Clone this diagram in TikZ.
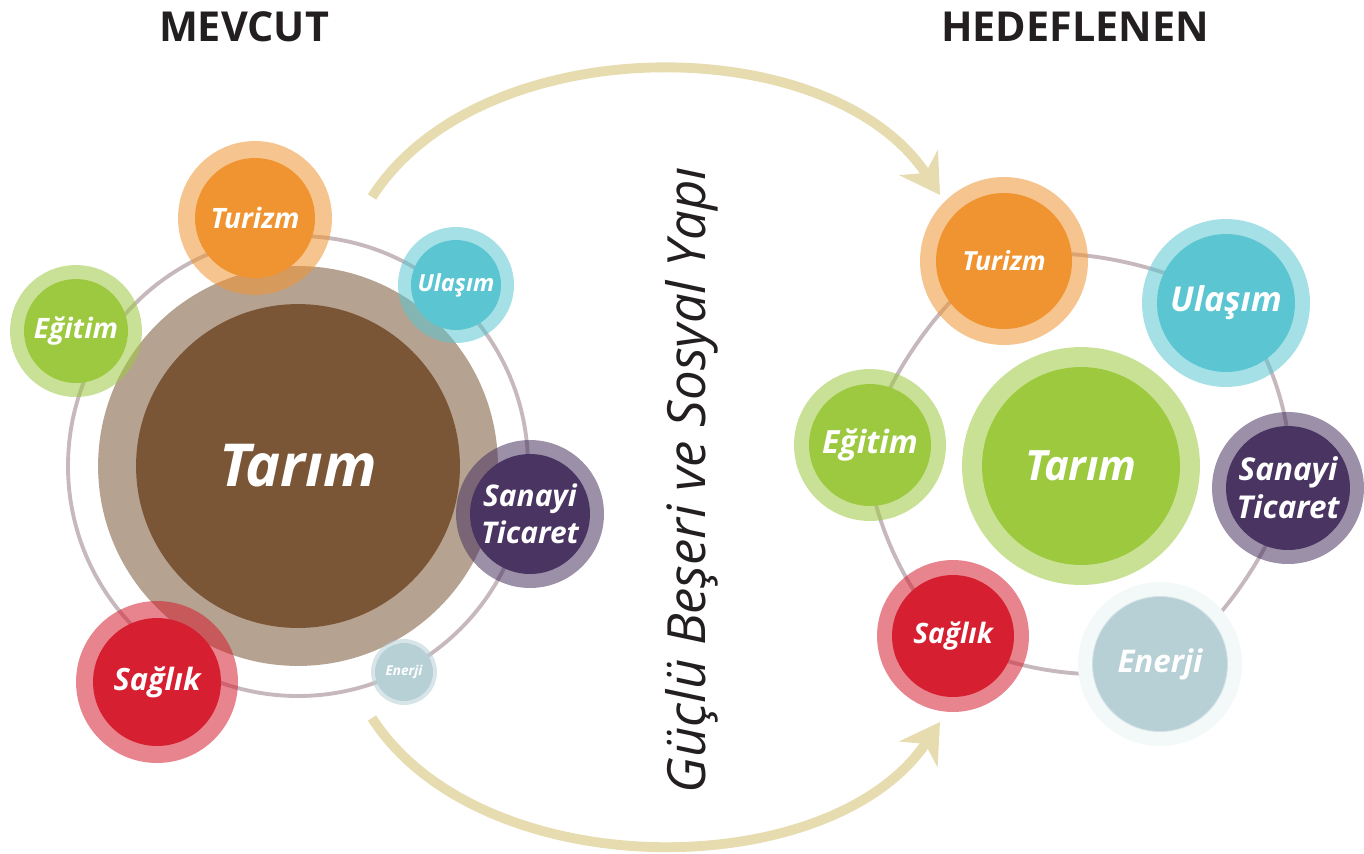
\documentclass[tikz,border=0pt]{standalone}
\usepackage{fontspec}
\setmainfont{Open Sans}
\usetikzlibrary{arrows.meta,backgrounds}

\definecolor{tarimbrown}{HTML}{7A5536}
\definecolor{tarimgreen}{HTML}{9CC93D}
\definecolor{egitimgreen}{HTML}{9DC940}
\definecolor{turizmorange}{HTML}{EF9431}
\definecolor{ulasimcyan}{HTML}{5BC6D1}
\definecolor{sanayipurple}{HTML}{4A3461}
\definecolor{saglikred}{HTML}{D61F30}
\definecolor{enerjiblue}{HTML}{B7D0D6}
\definecolor{enerjihalo}{HTML}{F3F8F8}
\definecolor{ringgrey}{HTML}{C6B8BD}
\definecolor{flowbeige}{HTML}{E6DCB0}
\definecolor{titletext}{HTML}{231F20}

\tikzset{
    bubble/.style n args={3}{circle, inner sep=0pt, outer sep=0pt, fill=#1, draw=#1,
        draw opacity=0.55, minimum size={#3*0.04cm}, line width={(#2-#3)*0.04cm},
        text=white, align=center},
    fs/.style 2 args={font=\bfseries\itshape\fontsize{#1}{#2}\selectfont},
    ring/.style={draw=ringgrey, line width=2.2pt},
    flow/.style={draw=flowbeige, line width=5.6pt,
        -{Stealth[length=22pt, width=26pt, inset=7pt]}},
    heading/.style={text=titletext, font=\bfseries\fontsize{23.5}{28}\selectfont}
}

\begin{document}
\begin{tikzpicture}[x=0.02cm, y=-0.02cm]
    \useasboundingbox (0, 0) rectangle (1364, 853);
    % headings.
    \node[heading] (mevcut) at (244, 27) {MEVCUT};
    \node[heading] (hedef) at (1075, 27) {HEDEFLENEN};
    % left ring, behind the bubbles.
    \coordinate (left centre) at (298, 466);
    \draw[ring] (left centre) circle[radius=230];
    % left cluster.
    \node[bubble={tarimbrown}{200}{162}, fs={33.7}{38}] (tarim left) at (left centre) {Tarım};
    \node[bubble={turizmorange}{77}{60}, fs={16}{19}] (turizm left) at (255, 218) {Turizm};
    \node[bubble={egitimgreen}{66}{52}, fs={16}{19}] (egitim left) at (76, 331) {Eğitim};
    \node[bubble={ulasimcyan}{58}{45}, fs={13.4}{16}] (ulasim left) at (456, 285) {Ulaşım};
    \node[bubble={sanayipurple}{74}{60}, fs={17}{21}] (sanayi left) at (530, 514) {Sanayi\\Ticaret};
    \node[bubble={enerjiblue}{33}{29}, fs={7.7}{9}] (enerji left) at (404, 672) {Enerji};
    \node[bubble={saglikred}{81}{64}, fs={17.5}{21}] (saglik left) at (157, 682) {Sağlık};
    % right cluster.
    \fill[enerjihalo] (1160, 664) circle[radius=82];
    \node[bubble={tarimgreen}{119}{99}, fs={23.8}{28}] (tarim right) at (1081, 466) {Tarım};
    \node[bubble={turizmorange}{84}{68}, fs={15}{18}] (turizm right) at (1004, 261) {Turizm};
    \node[bubble={ulasimcyan}{84}{69}, fs={19.5}{23}] (ulasim right) at (1226, 303) {Ulaşım};
    \node[bubble={egitimgreen}{76}{61}, fs={18.2}{21}] (egitim right) at (870, 445) {Eğitim};
    \node[bubble={sanayipurple}{76}{62}, fs={17.9}{21.6}] (sanayi right) at (1288, 488) {Sanayi\\Ticaret};
    \node[bubble={saglikred}{76}{61}, fs={16}{19}] (saglik right) at (953, 636) {Sağlık};
    \node[bubble={enerjiblue}{68}{67}, fs={17.8}{21}] (enerji right) at (1160, 664) {Enerji};
    % right ring, through the bubble centres.
    \begin{scope}[on background layer]
        \draw[ring] plot[smooth cycle, tension=0.55] coordinates {(turizm right.center)
            (ulasim right.center) (sanayi right.center) (enerji right.center)
            (saglik right.center) (egitim right.center)};
    \end{scope}
    % arrows between the two states.
    \coordinate (top start) at (372, 197);
    \coordinate (top end) at (940, 195);
    \draw[flow] (top start) .. controls (480, 28) and (830, 28) .. (top end);
    \coordinate (bottom start) at (372, 718);
    \coordinate (bottom end) at (940, 722);
    \draw[flow] (bottom start) .. controls (480, 886) and (830, 886) .. (bottom end);
    % vertical caption.
    \node[rotate=90, text=titletext, font=\itshape\fontsize{30}{34}\selectfont] (caption) at (692, 480)
        {Güçlü Beşeri ve Sosyal Yapı};
\end{tikzpicture}
\end{document}
